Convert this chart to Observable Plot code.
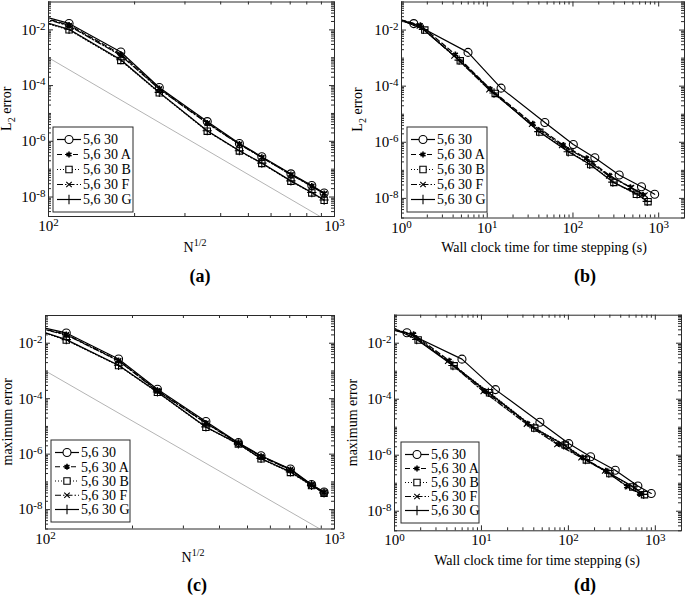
<!DOCTYPE html>
<html><head><meta charset="utf-8">
<script src="https://cdn.jsdelivr.net/npm/d3@7"></script>
<script src="https://cdn.jsdelivr.net/npm/@observablehq/plot@0.6"></script>
<style>
body{margin:0;background:#fff;}
#c{position:relative;width:685px;height:604px;overflow:hidden;background:#fff;}
#c svg{position:absolute;overflow:visible;}
</style></head><body><div id="c"></div>
<script>
// ---------------- data ----------------
const seriesNames = ["5,6 30", "5,6 30 A", "5,6 30 B", "5,6 30 F", "5,6 30 G"];
// N^(1/2) for each run (first run lies left of the plotted range)
const nHalf = [80, 118, 179, 244, 359, 465, 557, 704, 833, 920];
// L2 error
const l2_56_30 = [5.0e-2, 1.7e-2, 1.6e-3, 8.5e-5, 5.1e-6, 8.3e-7, 2.8e-7, 6.8e-8, 2.6e-8, 1.4e-8];
const l2_A     = [4.6e-2, 1.5e-2, 1.35e-3, 8.0e-5, 4.6e-6, 8.0e-7, 2.7e-7, 6.5e-8, 2.5e-8, 1.35e-8];
const l2_B     = [3.2e-2, 1.0e-2, 8.0e-4, 5.5e-5, 2.3e-6, 4.5e-7, 1.6e-7, 3.7e-8, 1.4e-8, 7.6e-9];
const l2_F     = [4.4e-2, 1.4e-2, 1.2e-3, 7.5e-5, 4.4e-6, 7.8e-7, 2.6e-7, 6.3e-8, 2.4e-8, 1.3e-8];
const l2_G     = [3.3e-2, 1.05e-2, 8.5e-4, 5.7e-5, 2.4e-6, 4.6e-7, 1.65e-7, 3.8e-8, 1.45e-8, 7.8e-9];
// maximum error
const mx_56_30 = [5.9e-2, 2.35e-2, 2.7e-3, 2.2e-4, 1.5e-5, 2.6e-6, 8.8e-7, 2.9e-7, 8.0e-8, 4.3e-8];
const mx_A     = [5.5e-2, 2.1e-2, 2.4e-3, 2.0e-4, 1.35e-5, 2.5e-6, 8.4e-7, 2.8e-7, 7.8e-8, 4.2e-8];
const mx_B     = [5.0e-2, 1.3e-2, 1.56e-3, 1.7e-4, 9.3e-6, 2.3e-6, 6.8e-7, 2.2e-7, 7.4e-8, 3.9e-8];
const mx_F     = [5.3e-2, 2.0e-2, 2.3e-3, 1.9e-4, 1.3e-5, 2.45e-6, 8.2e-7, 2.75e-7, 7.6e-8, 4.1e-8];
const mx_G     = [5.1e-2, 1.35e-2, 1.6e-3, 1.75e-4, 9.6e-6, 2.35e-6, 7.0e-7, 2.3e-7, 7.5e-8, 4.0e-8];
// wall clock time for time stepping (s)
const t_56_30 = [0.38, 1.39, 5.97, 14.5, 47, 101, 180, 346, 630, 898];
const t_A     = [0.43, 1.66, 4.25, 10.8, 34, 77, 144, 269, 468, 658];
const t_B     = [0.77, 1.87, 4.85, 12.4, 41, 92, 161, 300, 550, 751];
const t_F     = [0.42, 1.62, 4.1, 10.5, 33, 74, 140, 262, 480, 690];
const t_G     = [0.75, 1.8, 4.7, 12.0, 40, 88, 157, 292, 560, 735];
// grey reference slope line (order 6)
const refX = [100, 1000];
const refY = [1e-3, 1e-9];
// tick values
const yMajorTicks = [1e-8, 1e-6, 1e-4, 1e-2];
const nMajorTicks = [100, 1000];
const tMajorTicks = [1, 10, 100, 1000];

// ---------------- styles ----------------
const FONT = "'Liberation Serif', 'Times New Roman', serif";
const symbols = ["circle", "asterisk", "square", "times", "plus"];
const symR = {circle: 4, asterisk: 2.7, square: 3.6, times: 2.6, plus: 3.1};
const dashes = [null, "5,3", "1,2", "6,2,1.5,2", null];
const d3sym = {circle: d3.symbolCircle, asterisk: d3.symbolAsterisk, square: d3.symbolSquare, times: d3.symbolTimes, plus: d3.symbolPlus};

function minorTicks(lo, hi, majors) {
  const out = [];
  for (let e = Math.floor(Math.log10(lo)); e <= Math.ceil(Math.log10(hi)); e++) {
    for (let k = 1; k <= 9; k++) {
      const v = k * Math.pow(10, e);
      if (v >= lo * 0.999 && v <= hi * 1.001 && !majors.some(m => Math.abs(m - v) / v < 1e-6)) out.push(v);
    }
  }
  return out;
}
const fmtPow = d => "10^" + Math.round(Math.log10(d));

function panel(o) {
  const pw = o.width - o.mL - o.mR, ph = o.height - o.mT - o.mB;
  const xDomain = o.xDomain, yDomain = [2e-9, 0.1];
  const xMinor = minorTicks(xDomain[0], xDomain[1], o.xMajor);
  const yMinor = minorTicks(yDomain[0], yDomain[1], yMajorTicks);
  const marks = [];
  if (o.showRef) {
    const ref = refX.map((x, i) => ({x, y: refY[i]}));
    marks.push(Plot.line(ref, {x: "x", y: "y", stroke: "#b4b4b4", strokeWidth: 1, clip: true}));
  }
  seriesNames.forEach((name, i) => {
    const rows = o.xs[i].map((x, j) => ({series: name, x, y: o.ys[i][j]}));
    marks.push(Plot.line(rows, {x: "x", y: "y", stroke: "black", strokeWidth: 1.2, strokeDasharray: dashes[i], clip: true}));
    marks.push(Plot.dot(rows, {x: "x", y: "y", symbol: symbols[i], r: symR[symbols[i]], stroke: "black", fill: "none", strokeWidth: symbols[i] === "asterisk" ? 1.6 : 1.1, clip: true}));
  });
  const TK = "#2a2a2a";
  marks.push(
    Plot.tickX(o.xMajor, {x: d => d, insetTop: ph - 5, stroke: TK}),
    Plot.tickX(o.xMajor, {x: d => d, insetBottom: ph - 5, stroke: TK}),
    Plot.tickX(xMinor, {x: d => d, insetTop: ph - 3, stroke: TK}),
    Plot.tickX(xMinor, {x: d => d, insetBottom: ph - 3, stroke: TK}),
    Plot.tickY(yMajorTicks, {y: d => d, insetRight: pw - 5, stroke: TK}),
    Plot.tickY(yMajorTicks, {y: d => d, insetLeft: pw - 5, stroke: TK}),
    Plot.tickY(yMinor, {y: d => d, insetRight: pw - 3, stroke: TK}),
    Plot.tickY(yMinor, {y: d => d, insetLeft: pw - 3, stroke: TK}),
    Plot.axisX({ticks: o.xMajor, tickSize: 0, tickPadding: 4, tickFormat: fmtPow, label: null}),
    Plot.axisY({ticks: yMajorTicks, tickSize: 0, tickPadding: 3, tickFormat: fmtPow, label: null}),
    Plot.frame({stroke: TK, strokeWidth: 1})
  );
  const svg = Plot.plot({
    width: o.width, height: o.height,
    marginLeft: o.mL, marginRight: o.mR, marginTop: o.mT, marginBottom: o.mB,
    x: {type: "log", domain: xDomain},
    y: {type: "log", domain: yDomain},
    style: {fontFamily: FONT, fontSize: "15px", background: "transparent", color: "black", overflow: "visible"},
    marks
  });
  const s = d3.select(svg);
  s.attr("font-family", FONT);
  // superscript exponents on tick labels
  s.selectAll("text").each(function() {
    const t = this.textContent;
    const m = /^10\^(-?\d+)$/.exec(t);
    if (m) {
      const el = d3.select(this);
      el.text(null);
      el.append("tspan").text("10");
      el.append("tspan").attr("dy", "-0.45em").attr("font-size", "11px").text(m[1]);
    }
  });
  const g = s.append("g").attr("font-family", FONT).attr("fill", "black");
  // y label
  const yl = g.append("text").attr("transform", `translate(${o.yLabelX},${o.mT + ph / 2}) rotate(-90)`)
    .attr("text-anchor", "middle").attr("font-size", "14px");
  if (o.yLabel === "L2") {
    yl.append("tspan").text("L");
    yl.append("tspan").attr("dy", 4).attr("font-size", "10px").text("2");
    yl.append("tspan").attr("dy", -4).text(" error");
  } else {
    yl.text(o.yLabel);
  }
  // x label
  const xl = g.append("text").attr("x", o.xLabelX).attr("y", o.xLabelY).attr("text-anchor", "middle").attr("font-size", "14px");
  if (o.xLabel === "N") {
    xl.append("tspan").text("N");
    xl.append("tspan").attr("dy", -6).attr("font-size", "10px").text("1/2");
  } else {
    xl.text(o.xLabel);
  }
  // caption
  g.append("text").attr("x", o.capX).attr("y", o.capY).attr("text-anchor", "middle")
    .attr("font-size", "18px").attr("font-weight", "bold").text(o.caption);
  // legend
  const L = o.legend;
  const lg = g.append("g");
  lg.append("rect").attr("x", L.x).attr("y", L.y).attr("width", L.w).attr("height", L.h)
    .attr("fill", "white").attr("stroke", TK).attr("stroke-width", 1);
  const step = (L.h - 25) / 4;
  seriesNames.forEach((name, i) => {
    const cy = L.y + 12.5 + i * step;
    const line = lg.append("line").attr("x1", L.x + 4).attr("x2", L.x + 28).attr("y1", cy).attr("y2", cy)
      .attr("stroke", "black").attr("stroke-width", 1.2);
    if (dashes[i]) line.attr("stroke-dasharray", dashes[i]);
    const rr = symR[symbols[i]];
    lg.append("path").attr("d", d3.symbol(d3sym[symbols[i]], Math.PI * rr * rr)()).attr("transform", `translate(${L.x + 16},${cy})`)
      .attr("fill", symbols[i] === "circle" || symbols[i] === "square" ? "white" : "none").attr("stroke", "black")
      .attr("stroke-width", symbols[i] === "asterisk" ? 1.6 : 1.1);
    lg.append("text").attr("x", L.x + 30).attr("y", cy).attr("dy", "0.35em").attr("text-anchor", "start")
      .attr("font-size", "14px").text(name);
  });
  svg.style.left = o.left + "px";
  svg.style.top = o.top + "px";
  document.getElementById("c").appendChild(svg);
}

const nX = Array(5).fill(nHalf);
const tX = [t_56_30, t_A, t_B, t_F, t_G];
const l2Y = [l2_56_30, l2_A, l2_B, l2_F, l2_G];
const mxY = [mx_56_30, mx_A, mx_B, mx_F, mx_G];

panel({left: 0, top: 0, width: 340, height: 300, mL: 48, mR: 6, mT: 1.5, mB: 84,
  xDomain: [100, 1000], xMajor: nMajorTicks, xs: nX, ys: l2Y, showRef: true,
  yLabel: "L2", yLabelX: 10.5, xLabel: "N", xLabelX: 195, xLabelY: 252,
  caption: "(a)", capX: 200, capY: 282, legend: {x: 53, y: 127, w: 80, h: 85}});
panel({left: 345, top: 0, width: 340, height: 300, mL: 56, mR: 1, mT: 1.5, mB: 82.5,
  xDomain: [1, 2000], xMajor: tMajorTicks, xs: tX, ys: l2Y, showRef: false,
  yLabel: "L2", yLabelX: 17, xLabel: "Wall clock time for time stepping (s)", xLabelX: 199, xLabelY: 252,
  caption: "(b)", capX: 240, capY: 282, legend: {x: 62, y: 127, w: 80, h: 85}});
panel({left: 0, top: 300, width: 340, height: 304, mL: 45, mR: 6, mT: 15, mB: 75.5,
  xDomain: [100, 1000], xMajor: nMajorTicks, xs: nX, ys: mxY, showRef: true,
  yLabel: "maximum error", yLabelX: 12, xLabel: "N", xLabelX: 193, xLabelY: 262,
  caption: "(c)", capX: 197, capY: 291, legend: {x: 51, y: 140, w: 79, h: 82}});
panel({left: 345, top: 300, width: 340, height: 304, mL: 49, mR: 4, mT: 14.7, mB: 73.7,
  xDomain: [1, 2000], xMajor: tMajorTicks, xs: tX, ys: mxY, showRef: false,
  yLabel: "maximum error", yLabelX: 12, xLabel: "Wall clock time for time stepping (s)", xLabelX: 192, xLabelY: 265,
  caption: "(d)", capX: 240, capY: 291, legend: {x: 56, y: 142, w: 78, h: 81}});
</script></body></html>
